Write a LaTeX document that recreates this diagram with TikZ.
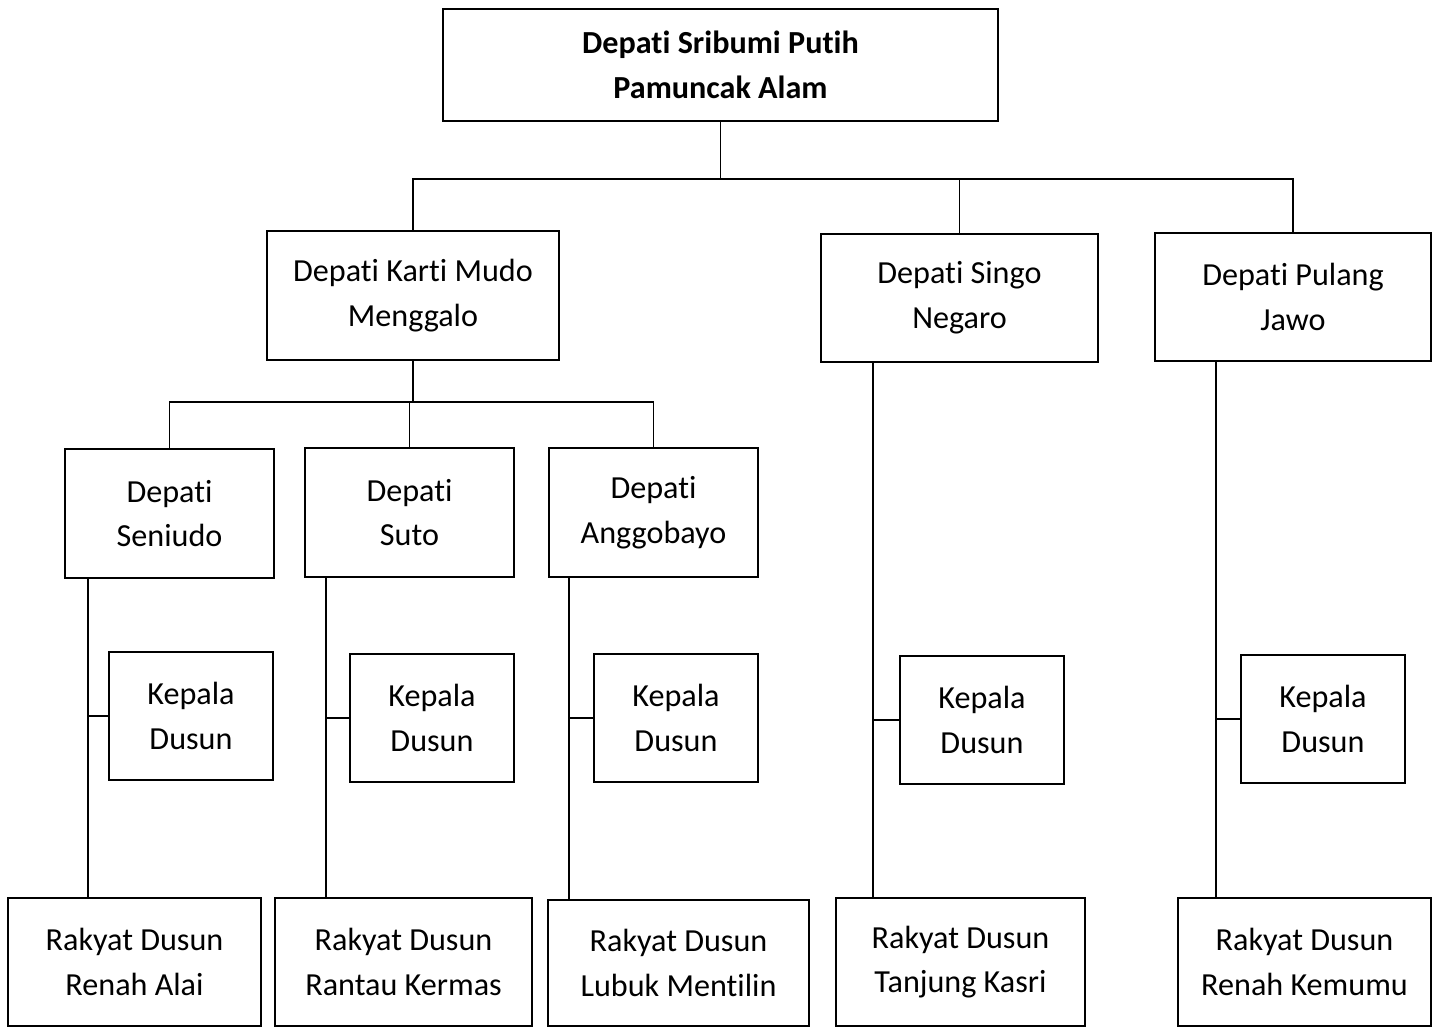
\documentclass[tikz,border=0pt]{standalone}
\usepackage{fontspec}
\setmainfont{Carlito}[Ligatures=NoCommon]
\usepackage{tikz}
\usetikzlibrary{positioning}
\tikzset{
    %Define style for boxes
    block/.style={
           rectangle,
           draw=black,
           line width=0.8pt,
           inner sep=0pt,
           align=center,
           font=\fontsize{18.3}{25.5}\selectfont},
    % Define style for connectors
    link/.style={
           line width=1pt,
           }
}

\begin{document}
\begin{tikzpicture}[x=0.02cm, y=-0.02cm]
    \useasboundingbox (0,0) rectangle (1437,1028);
    % top level
    \node [block, minimum width=11.1cm, minimum height=2.24cm] (SP) at (720.5,65) {\textbf{Depati Sribumi Putih}\\\textbf{Pamuncak Alam}};
    % second level
    \node [block, minimum width=5.84cm, minimum height=2.58cm] (KM) at (413,295.5) {Depati Karti Mudo\\Menggalo};
    \node [block, minimum width=5.54cm, minimum height=2.56cm] (SN) at (959.5,298) {Depati Singo\\Negaro};
    \node [block, minimum width=5.52cm, minimum height=2.56cm] (PJ) at (1293,297) {Depati Pulang\\Jawo};
    % third level
    \node [block, minimum width=4.18cm, minimum height=2.58cm] (SE) at (169.5,513.5) {Depati\\Seniudo};
    \node [block, minimum width=4.18cm, minimum height=2.58cm] (SU) at (409.5,512.5) {Depati\\Suto};
    \node [block, minimum width=4.18cm, minimum height=2.58cm] (AB) at (653.5,512.5) {Depati\\Anggobayo};
    % kepala dusun
    \node [block, minimum width=3.28cm, minimum height=2.56cm] (KD1) at (191,716) {Kepala\\Dusun};
    \node [block, minimum width=3.28cm, minimum height=2.56cm] (KD2) at (432,718) {Kepala\\Dusun};
    \node [block, minimum width=3.28cm, minimum height=2.56cm] (KD3) at (676,718) {Kepala\\Dusun};
    \node [block, minimum width=3.28cm, minimum height=2.56cm] (KD4) at (982,720) {Kepala\\Dusun};
    \node [block, minimum width=3.28cm, minimum height=2.56cm] (KD5) at (1323,719) {Kepala\\Dusun};
    % rakyat dusun
    \node [block, minimum width=5.06cm, minimum height=2.56cm] (RD1) at (134.5,962) {Rakyat Dusun\\Renah Alai};
    \node [block, minimum width=5.14cm, minimum height=2.56cm] (RD2) at (403.5,962) {Rakyat Dusun\\Rantau Kermas};
    \node [block, minimum width=5.22cm, minimum height=2.52cm] (RD3) at (678.5,963) {Rakyat Dusun\\Lubuk Mentilin};
    \node [block, minimum width=4.98cm, minimum height=2.56cm] (RD4) at (960.5,962) {Rakyat Dusun\\Tanjung Kasri};
    \node [block, minimum width=5.06cm, minimum height=2.56cm] (RD5) at (1304.5,962) {Rakyat Dusun\\Renah Kemumu};

    % connectors below the top box
    \coordinate (bus1) at (SP.south |- 0,179);
    \draw [link] (SP.south) -- (bus1);
    \draw [link] (KM.north) |- (bus1) -| (PJ.north);
    \draw [link] (SN.north) -- (SN.north |- bus1);

    % connectors below Karti Mudo
    \coordinate (bus2) at (KM.south |- 0,402);
    \draw [link] (KM.south) -- (bus2);
    \draw [link] (SE.north) |- (bus2) -| (AB.north);
    \draw [link] (SU.north) -- (SU.north |- bus2);

    % vertical lines down to rakyat dusun
    \draw [link] ([xshift=0.48cm]SE.south west) coordinate (v1) -- (v1 |- RD1.north);
    \draw [link] ([xshift=0.44cm]SU.south west) coordinate (v2) -- (v2 |- RD2.north);
    \draw [link] ([xshift=0.42cm]AB.south west) coordinate (v3) -- (v3 |- RD3.north);
    \draw [link] ([xshift=1.06cm]SN.south west) coordinate (v4) -- (v4 |- RD4.north);
    \draw [link] ([xshift=1.24cm]PJ.south west) coordinate (v5) -- (v5 |- RD5.north);

    % branches to kepala dusun
    \draw [link] (v1 |- KD1.west) -- (KD1.west);
    \draw [link] (v2 |- KD2.west) -- (KD2.west);
    \draw [link] (v3 |- KD3.west) -- (KD3.west);
    \draw [link] (v4 |- KD4.west) -- (KD4.west);
    \draw [link] (v5 |- KD5.west) -- (KD5.west);
\end{tikzpicture}
\end{document}
